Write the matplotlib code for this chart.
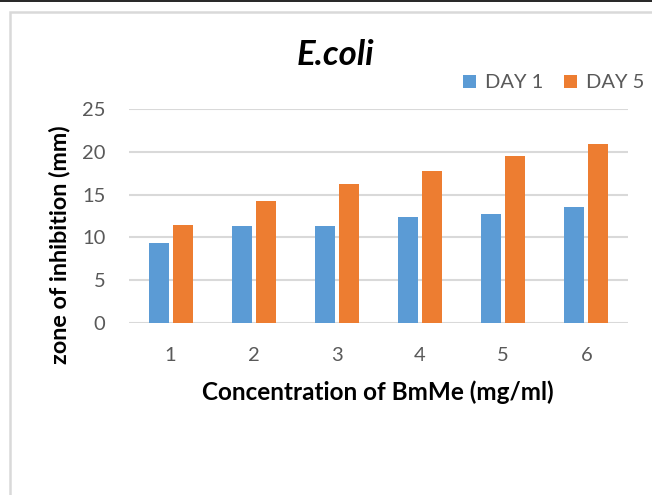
import matplotlib
matplotlib.use('Agg')
import matplotlib.pyplot as plt
import numpy as np
from matplotlib.patches import Rectangle
from matplotlib.lines import Line2D

plt.rcParams['font.family'] = ['Lato', 'DejaVu Sans']

# data
concentrations = ['1', '2', '3', '4', '5', '6']
day1 = [9.4, 11.3, 11.3, 12.4, 12.7, 13.6]
day5 = [11.5, 14.3, 16.2, 17.8, 19.5, 20.9]
series_names = ['DAY 1', 'DAY 5']
colors = ['#5B9BD5', '#ED7D31']
yticks = [0, 5, 10, 15, 20, 25]

W, H = 652, 495
fig = plt.figure(figsize=(W / 100, H / 100), dpi=100)

# outer chart frame (light grey) and black line on top
fig.patches.append(Rectangle((9.5 / W, -0.2), 1.2, 1.2 - 12 / H,
                             transform=fig.transFigure, fill=False,
                             edgecolor='#d9d9d9', lw=1.8))
fig.lines.append(Line2D([0, 1], [1 - 0.8 / H, 1 - 0.8 / H],
                        transform=fig.transFigure, color='black', lw=1.2))

ax = fig.add_axes([129 / W, (H - 323) / H, 499 / W, 214 / H])

x = np.arange(len(concentrations))
width = 0.24
offset = 0.144
ax.bar(x - offset, day1, width, color=colors[0], label=series_names[0])
ax.bar(x + offset, day5, width, color=colors[1], label=series_names[1])

ax.set_xlim(-0.5, len(concentrations) - 0.5)
ax.set_ylim(0, 25)
ax.set_yticks(yticks)
ax.set_xticks(x)
ax.set_xticklabels(concentrations)

for s in ax.spines.values():
    s.set_visible(False)
ax.yaxis.grid(True, color='#d9d9d9', lw=1.5)
ax.set_axisbelow(True)
ax.tick_params(axis='both', length=0, labelsize=14.5, labelcolor='#595959')
ax.tick_params(axis='y', pad=17)
ax.tick_params(axis='x', pad=17)

fig.text(59 / W, 1 - 245 / H, 'zone of inhibition (mm)', rotation=90,
         ha='center', va='center', fontsize=16.8, fontweight='bold')
fig.text(378 / W, 1 - 392 / H, 'Concentration of BmMe (mg/ml)',
         ha='center', va='center', fontsize=17.5, fontweight='bold')
fig.text(335 / W, 1 - 55 / H, 'E.coli', ha='center', va='center',
         fontsize=25, fontweight='bold', fontstyle='italic')

fig.legend(loc='center left', bbox_to_anchor=(463 / W, 1 - 83 / H),
           ncol=2, frameon=False, fontsize=14.5, labelcolor='#595959',
           handlelength=0.65, handleheight=0.65, handletextpad=0.45,
           columnspacing=1.0, borderpad=0, borderaxespad=0)

fig.savefig('out.png', dpi=100)
